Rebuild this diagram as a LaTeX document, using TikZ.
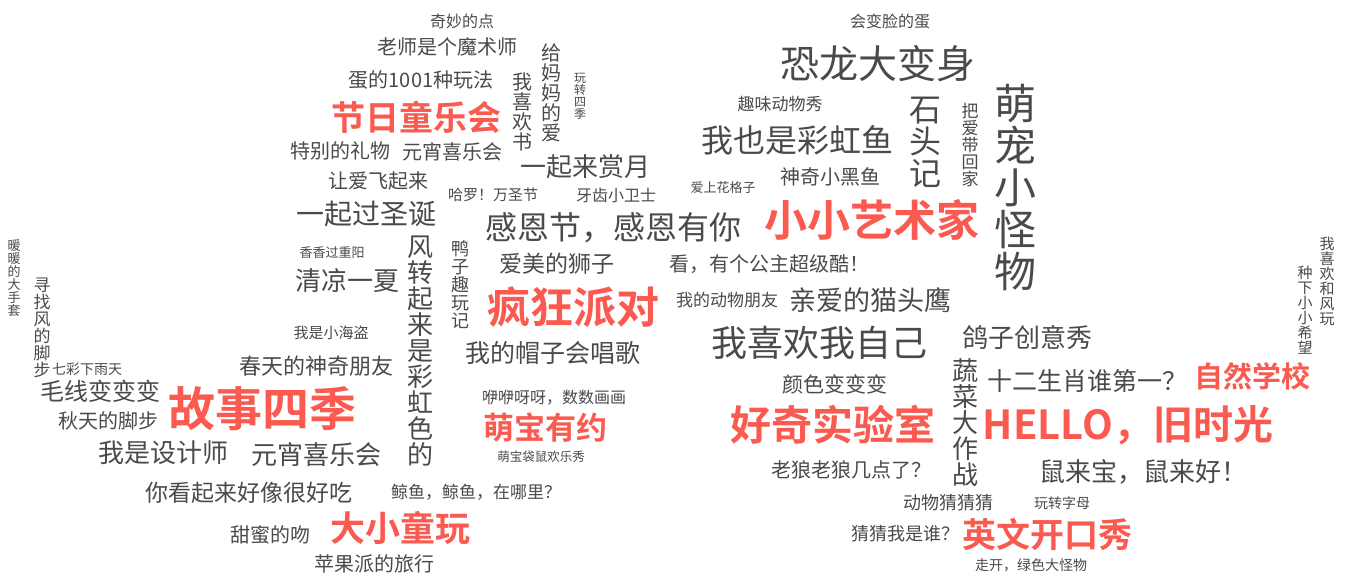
\documentclass[tikz,border=0pt]{standalone}
\usepackage{fontspec}
\setmainfont{Noto Sans CJK SC}[BoldFont={Noto Sans CJK SC Bold}]
\definecolor{wgrey}{HTML}{4A4A4A}
\definecolor{wred}{HTML}{FA5A50}
\begin{document}
\begin{tikzpicture}[x=1pt,y=-1pt,
  w/.style={inner sep=0pt,text=wgrey,align=center,font=\fontsize{#1}{#1}\selectfont},
  r/.style={inner sep=0pt,text=wred,align=center,font=\fontsize{#1}{#1}\selectfont\bfseries}]
\useasboundingbox[fill=white] (0,0) rectangle (1347,588);
% left upper cluster
\node[w=16] (n1) at (462,21) {奇妙的点};
\node[w=20] (n2) at (447,47) {老师是个魔术师};
\node[w=20] (n3) at (421,80) {蛋的1001种玩法};
\node[r=34] (n4) at (416,117) {节日童乐会};
\node[w=20] (n5) at (340,151) {特别的礼物};
\node[w=20] (n6) at (452,152) {元宵喜乐会};
\node[w=20] (n7) at (378,181) {让爱飞起来};
\node[w=20] (n8) at (522,112) {我\\喜\\欢\\书};
\node[w=20] (n9) at (551,93) {给\\妈\\妈\\的\\爱};
\node[w=12] (n10) at (580,96) {玩\\转\\四\\季};
\node[w=26] (n11) at (585,167) {一起来赏月};
\node[w=15] (n12) at (493,195) {哈罗！万圣节};
\node[w=16] (n13) at (616,195) {牙齿小卫士};
\node[w=13] (n14) at (723,188) {爱上花格子};
% right upper cluster
\node[w=16] (n15) at (890,21) {会变脸的蛋};
\node[w=39] (n16) at (878,64) {恐龙大变身};
\node[w=17] (n17) at (780,104) {趣味动物秀};
\node[w=32] (n18) at (797,140) {我也是彩虹鱼};
\node[w=20] (n19) at (830,177) {神奇小黑鱼};
\node[w=32] (n20) at (925,142) {石\\头\\记};
\node[w=17] (n21) at (970,145) {把\\爱\\带\\回\\家};
\node[w=42] (n22) at (1015,188) {萌\\宠\\小\\怪\\物};
\node[r=43] (n23) at (872,220) {小小艺术家};
% middle
\node[w=28] (n24) at (366,214) {一起过圣诞};
\node[w=32] (n25) at (613,228) {感恩节，感恩有你};
\node[w=13] (n26) at (332,253) {香香过重阳};
\node[w=26] (n27) at (347,281) {清凉一夏};
\node[w=26] (n28) at (420,351) {风\\转\\起\\来\\是\\彩\\虹\\色\\的};
\node[w=18] (n29) at (460,285) {鸭\\子\\趣\\玩\\记};
\node[w=23] (n30) at (557,264) {爱美的狮子};
\node[w=20] (n31) at (769,264) {看，有个公主超级酷！};
\node[r=43] (n32) at (573,307) {疯狂派对};
\node[w=17] (n33) at (727,300) {我的动物朋友};
\node[w=27] (n34) at (870,300) {亲爱的猫头鹰};
\node[w=36] (n35) at (819,343) {我喜欢我自己};
\node[w=25] (n36) at (553,353) {我的帽子会唱歌};
\node[w=15] (n37) at (331,333) {我是小海盗};
\node[w=22] (n38) at (316,366) {春天的神奇朋友};
% right middle
\node[w=26] (n39) at (1027,338) {鸽子创意秀};
\node[w=26] (n40) at (965,423) {蔬\\菜\\大\\作\\战};
\node[w=25] (n41) at (1087,381) {十二生肖谁第一？};
\node[r=29] (n42) at (1252,376) {自然学校};
\node[w=21] (n43) at (835,384) {颜色变变变};
\node[r=41] (n44) at (833,425) {好奇实验室};
\node[r=40] (n45) at (1128,425) {HELLO，旧时光};
\node[w=20] (n46) at (851,470) {老狼老狼几点了？};
\node[w=26] (n47) at (1143,472) {鼠来宝，鼠来好！};
\node[w=18] (n48) at (948,503) {动物猜猜猜};
\node[w=14] (n49) at (1062,503) {玩转字母};
\node[w=18] (n50) at (905,534) {猜猜我是谁？};
\node[r=34] (n51) at (1047,534) {英文开口秀};
\node[w=14] (n52) at (1031,565) {走开，绿色大怪物};
\node[w=15] (n53) at (1327,281) {我\\喜\\欢\\和\\风\\玩};
\node[w=15] (n54) at (1305,310) {种\\下\\小\\小\\希\\望};
% left
\node[w=13] (n55) at (14,278) {暖\\暖\\的\\大\\手\\套};
\node[w=17] (n56) at (42,328) {寻\\找\\风\\的\\脚\\步};
\node[w=14] (n57) at (87,369) {七彩下雨天};
\node[w=24] (n58) at (100,391) {毛线变变变};
\node[r=47] (n59) at (262,409) {故事四季};
\node[w=20] (n60) at (108,421) {秋天的脚步};
\node[w=26] (n61) at (163,453) {我是设计师};
\node[w=26] (n62) at (316,455) {元宵喜乐会};
\node[w=23] (n63) at (249,493) {你看起来好像很好吃};
\node[w=17] (n64) at (476,492) {鲸鱼，鲸鱼，在哪里？};
\node[w=16] (n65) at (554,398) {咿咿呀呀，数数画画};
\node[r=31] (n66) at (545,428) {萌宝有约};
\node[w=12.5] (n67) at (541,457) {萌宝袋鼠欢乐秀};
\node[w=20] (n68) at (270,535) {甜蜜的吻};
\node[r=35] (n69) at (400,528) {大小童玩};
\node[w=20] (n70) at (374,564) {苹果派的旅行};
\end{tikzpicture}
\end{document}
